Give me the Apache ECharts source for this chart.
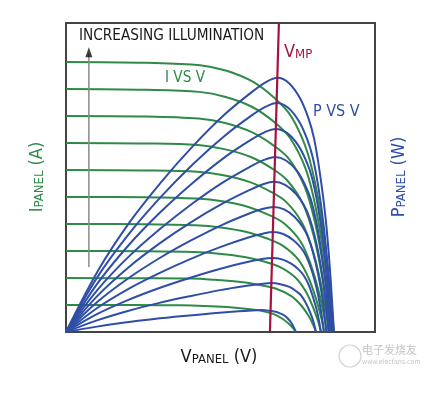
<!DOCTYPE html>
<html><head><meta charset="utf-8">
<script src="https://cdn.jsdelivr.net/npm/echarts@6/dist/echarts.min.js"></script>
<style>html,body{margin:0;padding:0;background:#fff}#c{width:444px;height:398px}</style>
</head><body><div id="c"></div>
<script>
// ---- data ----
const illuminationLevels = ['L1','L2','L3','L4','L5','L6','L7','L8','L9','L10'];
const voltageRange = [0, 100];
const currentRange = [0, 11.44];

const ivVoltage = [
  [0, 22.3, 37.2, 44.6, 52.1, 58.0, 62.5, 67.0, 69.9, 72.2, 73.7, 74.4],
  [0, 24.3, 40.5, 48.5, 56.6, 63.1, 68.0, 72.8, 76.0, 78.5, 80.1, 80.9],
  [0, 24.8, 41.3, 49.5, 57.8, 64.4, 69.3, 74.3, 77.6, 80.0, 81.7, 82.5],
  [0, 25.1, 41.8, 50.1, 58.5, 65.1, 70.1, 75.2, 78.5, 81.0, 82.7, 83.5],
  [0, 25.3, 42.2, 50.6, 59.0, 65.8, 70.8, 75.9, 79.2, 81.8, 83.5, 84.3],
  [0, 25.5, 42.5, 51.0, 59.5, 66.3, 71.4, 76.5, 79.9, 82.5, 84.2, 85.0],
  [0, 25.6, 42.7, 51.2, 59.8, 66.6, 71.7, 76.9, 80.3, 82.8, 84.5, 85.4],
  [0, 25.8, 43.0, 51.5, 60.1, 67.0, 72.2, 77.3, 80.7, 83.3, 85.0, 85.9],
  [0, 25.9, 43.1, 51.7, 60.3, 67.2, 72.4, 77.6, 81.0, 83.6, 85.3, 86.2],
  [0, 26.0, 43.4, 52.0, 60.7, 67.6, 72.8, 78.0, 81.5, 84.1, 85.8, 86.7]
];
const ivCurrent = [
  [1, 0.997, 0.988, 0.967, 0.925, 0.865, 0.8, 0.67, 0.5, 0.3, 0.12, 0],
  [2, 1.99, 1.98, 1.93, 1.85, 1.73, 1.6, 1.34, 1.0, 0.6, 0.24, 0],
  [3, 2.99, 2.96, 2.90, 2.78, 2.60, 2.4, 2.01, 1.5, 0.9, 0.36, 0],
  [4, 3.99, 3.95, 3.87, 3.70, 3.46, 3.2, 2.68, 2.0, 1.2, 0.48, 0],
  [5, 4.99, 4.94, 4.84, 4.63, 4.33, 4.0, 3.35, 2.5, 1.5, 0.6, 0],
  [6, 5.98, 5.93, 5.80, 5.55, 5.19, 4.8, 4.02, 3.0, 1.8, 0.72, 0],
  [7, 6.98, 6.92, 6.77, 6.48, 6.06, 5.6, 4.69, 3.5, 2.1, 0.84, 0],
  [8, 7.98, 7.90, 7.74, 7.40, 6.92, 6.4, 5.36, 4.0, 2.4, 0.96, 0],
  [9, 8.97, 8.89, 8.70, 8.33, 7.79, 7.2, 6.03, 4.5, 2.7, 1.08, 0],
  [10, 9.97, 9.88, 9.67, 9.25, 8.65, 8.0, 6.7, 5.0, 3.0, 1.2, 0]
];
const pvVoltage = [
  [0, 9.5, 19.0, 28.5, 38.0, 47.6, 55.8, 60.2, 63.4, 65.6, 67.8, 69.5, 70.6, 71.7, 72.8, 73.6, 74.4],
  [0, 10.0, 20.0, 29.9, 39.9, 49.9, 58.5, 63.2, 66.5, 69.4, 72.3, 74.4, 75.9, 77.3, 78.7, 79.9, 80.9],
  [0, 10.0, 20.0, 30.0, 40.0, 50.0, 58.7, 63.4, 66.7, 69.9, 73.0, 75.4, 77.0, 78.6, 80.1, 81.4, 82.5],
  [0, 10.1, 20.1, 30.2, 40.2, 50.3, 59.0, 63.7, 67.0, 70.3, 73.6, 76.1, 77.7, 79.4, 81.0, 82.3, 83.5],
  [0, 10.1, 20.2, 30.2, 40.3, 50.4, 59.1, 63.8, 67.2, 70.6, 74.0, 76.6, 78.3, 80.0, 81.7, 83.1, 84.3],
  [0, 10.1, 20.2, 30.3, 40.4, 50.6, 59.3, 64.0, 67.4, 70.9, 74.4, 77.1, 78.8, 80.6, 82.4, 83.8, 85.0],
  [0, 10.2, 20.3, 30.5, 40.6, 50.8, 59.6, 64.3, 67.7, 71.2, 74.8, 77.4, 79.2, 81.0, 82.7, 84.2, 85.4],
  [0, 10.2, 20.4, 30.6, 40.7, 50.9, 59.8, 64.5, 67.9, 71.5, 75.1, 77.8, 79.6, 81.4, 83.2, 84.6, 85.9],
  [0, 10.2, 20.5, 30.7, 40.9, 51.2, 60.0, 64.8, 68.2, 71.8, 75.4, 78.1, 79.9, 81.7, 83.5, 84.9, 86.2],
  [0, 10.3, 20.5, 30.8, 41.0, 51.3, 60.2, 65.0, 68.4, 72.1, 75.7, 78.5, 80.3, 82.1, 84.0, 85.4, 86.7]
];
const pvPower = [
  [0, 0.19, 0.35, 0.48, 0.59, 0.69, 0.77, 0.80, 0.81, 0.79, 0.75, 0.68, 0.62, 0.51, 0.36, 0.20, 0],
  [0, 0.43, 0.78, 1.07, 1.32, 1.55, 1.71, 1.78, 1.81, 1.77, 1.67, 1.52, 1.38, 1.14, 0.81, 0.45, 0],
  [0, 0.66, 1.18, 1.62, 2.00, 2.34, 2.59, 2.70, 2.74, 2.69, 2.52, 2.30, 2.08, 1.73, 1.23, 0.69, 0],
  [0, 0.89, 1.59, 2.18, 2.70, 3.16, 3.50, 3.64, 3.70, 3.63, 3.40, 3.11, 2.81, 2.33, 1.67, 0.93, 0],
  [0, 1.11, 1.99, 2.73, 3.38, 3.96, 4.38, 4.56, 4.63, 4.54, 4.26, 3.89, 3.52, 2.92, 2.08, 1.16, 0],
  [0, 1.33, 2.39, 3.28, 4.06, 4.75, 5.25, 5.48, 5.56, 5.45, 5.12, 4.67, 4.23, 3.50, 2.50, 1.39, 0],
  [0, 1.56, 2.79, 3.82, 4.73, 5.54, 6.12, 6.38, 6.48, 6.35, 5.96, 5.44, 4.92, 4.08, 2.92, 1.62, 0],
  [0, 1.80, 3.23, 4.44, 5.49, 6.43, 7.11, 7.41, 7.52, 7.37, 6.92, 6.32, 5.72, 4.74, 3.38, 1.88, 0],
  [0, 2.04, 3.65, 5.00, 6.19, 7.25, 8.01, 8.35, 8.48, 8.31, 7.80, 7.12, 6.44, 5.34, 3.82, 2.12, 0],
  [0, 2.26, 4.05, 5.55, 6.87, 8.05, 8.89, 9.27, 9.41, 9.22, 8.66, 7.90, 7.15, 5.93, 4.23, 2.35, 0]
];
const vmpVoltage = [66.0, 68.9];
const vmpLevel = [0, 11.44];
const arrowVoltage = 7.4;
const arrowLevel = [2.41, 10.3];
const arrowHeadLevel = 10.36;

// ---- styles ----
const GREEN = '#2f8a48';
const BLUE = '#2f4ea6';
const RED = '#a6123e';
const FONT = "'Liberation Sans Narrow','DejaVu Sans Condensed','Liberation Sans',sans-serif";

const series = [];
illuminationLevels.forEach((name, i) => {
  series.push({
    name: 'I ' + name, type: 'line', yAxisIndex: 0, showSymbol: false, silent: true,
    smooth: 0.35,
    lineStyle: { color: GREEN, width: 2 }, z: 2,
    data: ivVoltage[i].map((v, j) => [v, ivCurrent[i][j]])
  });
});
illuminationLevels.forEach((name, i) => {
  series.push({
    name: 'P ' + name, type: 'line', yAxisIndex: 1, showSymbol: false, silent: true,
    smooth: 0.35,
    lineStyle: { color: BLUE, width: 2 }, z: 3,
    data: pvVoltage[i].map((v, j) => [v, pvPower[i][j]])
  });
});
series.push({
  name: 'VMP', type: 'line', showSymbol: false, silent: true, z: 4,
  lineStyle: { color: RED, width: 2.2 },
  data: vmpVoltage.map((v, j) => [v, vmpLevel[j]])
});
series.push({
  name: 'arrow', type: 'line', showSymbol: false, silent: true, z: 4,
  lineStyle: { color: '#8a8a8a', width: 1.5 },
  data: arrowLevel.map(l => [arrowVoltage, l])
});
series.push({
  name: 'arrowHead', type: 'scatter', silent: true, z: 5,
  symbol: 'triangle', symbolSize: [7, 10],
  itemStyle: { color: '#111' },
  data: [[arrowVoltage, arrowHeadLevel]]
});

const sub = (size, color) => ({ fontSize: size, fontFamily: FONT, fill: color, color: color });

const chart = echarts.init(document.getElementById('c'), null, { renderer: 'canvas' });
chart.setOption({
  animation: false,
  backgroundColor: '#fff',
  grid: { left: 66, top: 23, right: 69, bottom: 66, show: true, borderColor: '#444', borderWidth: 2, backgroundColor: 'transparent' },
  xAxis: { type: 'value', min: voltageRange[0], max: voltageRange[1], axisLine: { show: false }, axisTick: { show: false }, axisLabel: { show: false }, splitLine: { show: false } },
  yAxis: [
    { type: 'value', min: currentRange[0], max: currentRange[1], axisLine: { show: false }, axisTick: { show: false }, axisLabel: { show: false }, splitLine: { show: false } },
    { type: 'value', min: currentRange[0], max: currentRange[1], axisLine: { show: false }, axisTick: { show: false }, axisLabel: { show: false }, splitLine: { show: false } }
  ],
  series: series,
  graphic: [
    { type: 'text', x: 79, y: 36, scaleX: 0.95, z: 10, style: { text: 'INCREASING ILLUMINATION', font: '16px ' + FONT, fill: '#1a1a1a', align: 'left', verticalAlign: 'middle', textAlign: 'left', textVerticalAlign: 'middle' } },
    { type: 'text', x: 165, y: 78, scaleX: 0.95, z: 10, style: { text: 'I VS V', font: '16px ' + FONT, fill: GREEN, align: 'left', verticalAlign: 'middle', textAlign: 'left', textVerticalAlign: 'middle' } },
    { type: 'text', x: 313, y: 112, z: 10, style: { text: 'P VS V', font: '16px ' + FONT, fill: BLUE, align: 'left', verticalAlign: 'middle', textAlign: 'left', textVerticalAlign: 'middle' } },
    { type: 'text', x: 284, y: 50, z: 10, style: { text: '{a|V}{b|MP}', align: 'left', verticalAlign: 'middle', textAlign: 'left', textVerticalAlign: 'middle',
        rich: { a: Object.assign(sub(18, RED), { lineHeight: 22, verticalAlign: 'bottom' }), b: Object.assign(sub(13, RED), { lineHeight: 22, verticalAlign: 'bottom', padding: [0, 0, 0, 0] }) } } },
    { type: 'text', x: 219, y: 355, z: 10, style: { text: '{a|V}{b|PANEL}{a| (V)}', align: 'center', verticalAlign: 'middle', textAlign: 'center', textVerticalAlign: 'middle',
        rich: { a: Object.assign(sub(18, '#1a1a1a'), { lineHeight: 22, verticalAlign: 'bottom' }), b: Object.assign(sub(13, '#1a1a1a'), { lineHeight: 20, verticalAlign: 'bottom' }) } } },
    { type: 'text', x: 35, y: 177, rotation: Math.PI / 2, z: 10, style: { text: '{a|I}{b|PANEL}{a| (A)}', align: 'center', verticalAlign: 'middle', textAlign: 'center', textVerticalAlign: 'middle',
        rich: { a: Object.assign(sub(18, GREEN), { lineHeight: 22, verticalAlign: 'bottom' }), b: Object.assign(sub(13, GREEN), { lineHeight: 20, verticalAlign: 'bottom' }) } } },
    { type: 'text', x: 397, y: 177, rotation: Math.PI / 2, z: 10, style: { text: '{a|P}{b|PANEL}{a| (W)}', align: 'center', verticalAlign: 'middle', textAlign: 'center', textVerticalAlign: 'middle',
        rich: { a: Object.assign(sub(18, BLUE), { lineHeight: 22, verticalAlign: 'bottom' }), b: Object.assign(sub(13, BLUE), { lineHeight: 20, verticalAlign: 'bottom' }) } } },
    { type: 'circle', shape: { cx: 350, cy: 356, r: 11 }, z: 1, style: { fill: 'none', stroke: '#d4d4d4', lineWidth: 1.2 } },
    { type: 'text', x: 362, y: 350, z: 1, style: { text: '电子发烧友', font: '11px "Noto Sans CJK SC"', fill: '#c4c4c4', align: 'left', verticalAlign: 'middle', textAlign: 'left', textVerticalAlign: 'middle' } },
    { type: 'text', x: 362, y: 362, z: 1, style: { text: 'www.elecfans.com', font: '7px ' + FONT, fill: '#c4c4c4', align: 'left', verticalAlign: 'middle', textAlign: 'left', textVerticalAlign: 'middle' } }
  ]
});
</script></body></html>
